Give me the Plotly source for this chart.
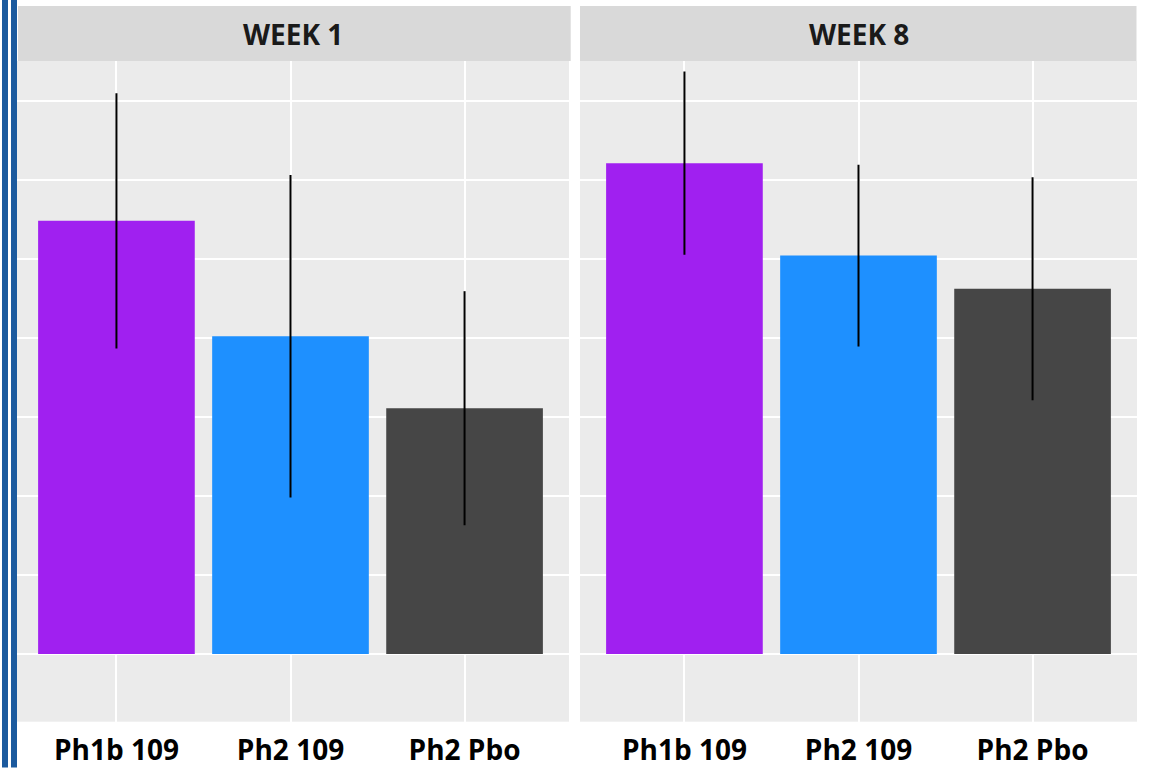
import plotly.graph_objects as go
from plotly.subplots import make_subplots

categories = ["Ph1b 109", "Ph2 109", "Ph2 Pbo"]
weeks = ["WEEK 1", "WEEK 8"]
week1_mean = [54.8, 40.2, 31.1]
week1_err = [16.15, 20.4, 14.8]
week8_mean = [62.1, 50.4, 46.2]
week8_err = [11.6, 11.5, 14.1]
bar_colors = ["#A020F0", "#1E90FF", "#464646"]

W, H = 1153, 768
HE = 760  # effective rendered height
fig = make_subplots(rows=1, cols=2)

for i, (m, e) in enumerate([(week1_mean, week1_err), (week8_mean, week8_err)]):
    fig.add_trace(go.Bar(
        x=categories, y=m, width=0.9,
        marker=dict(color=bar_colors, line=dict(width=0)),
        error_y=dict(type="data", array=e, visible=True, width=0, thickness=2, color="black"),
        showlegend=False,
    ), row=1, col=i + 1)

ytop = 1 - 61 / HE
ybot = 1 - 721.7 / HE
stop = 1 - 6 / HE
doms = [(12 / W, 569 / W), (580 / W, 1137 / W)]
strips = [(18 / W, 570.7 / W), (580 / W, 1136.5 / W)]

axfont = dict(family="Open Sans", size=28, color="black", weight="bold")
for i, d in enumerate(doms):
    xa = "xaxis" if i == 0 else "xaxis2"
    ya = "yaxis" if i == 0 else "yaxis2"
    fig.layout[xa].update(domain=list(d), range=[-0.6, 2.6], showgrid=True, gridcolor="white",
                          gridwidth=1.5, ticks="", tickfont=axfont, showline=False, zeroline=False,
                          ticklabelstandoff=9)
    fig.layout[ya].update(domain=[ybot, ytop], range=[-8.56, 75.02], showgrid=True, gridcolor="white",
                          gridwidth=1.5, dtick=10, tick0=0, showticklabels=False, ticks="",
                          zeroline=False, showline=False)
    s = strips[i]
    fig.add_shape(type="rect", xref="paper", yref="paper", x0=s[0], x1=s[1], y0=ytop, y1=stop,
                  fillcolor="#D9D9D9", line=dict(width=0), layer="below")
    fig.add_annotation(xref="paper", yref="paper", x=(d[0] + d[1]) / 2 + (3 / W if i == 0 else 0),
                       y=(ytop + stop) / 2,
                       text=weeks[i], showarrow=False, xanchor="center", yanchor="middle",
                       font=dict(family="Open Sans", size=28, color="#1a1a1a", weight="bold"))

# left blue double bars
for x0, x1 in [(0, 2), (2, 8), (11, 17)]:
    col = "white" if x0 == 0 else "#1B5A9E"
    fig.add_shape(type="rect", xref="paper", yref="paper", x0=x0 / W, x1=x1 / W, y0=-0.01, y1=1.01,
                  fillcolor=col, line=dict(width=0))
fig.add_shape(type="rect", xref="paper", yref="paper", x0=8 / W, x1=11 / W, y0=-0.01, y1=1.01,
              fillcolor="white", line=dict(width=0))

fig.update_layout(width=W, height=H, margin=dict(l=0, r=0, t=0, b=0),
                  plot_bgcolor="#EBEBEB", paper_bgcolor="white", bargap=0.1)

fig.write_html("out.html")
